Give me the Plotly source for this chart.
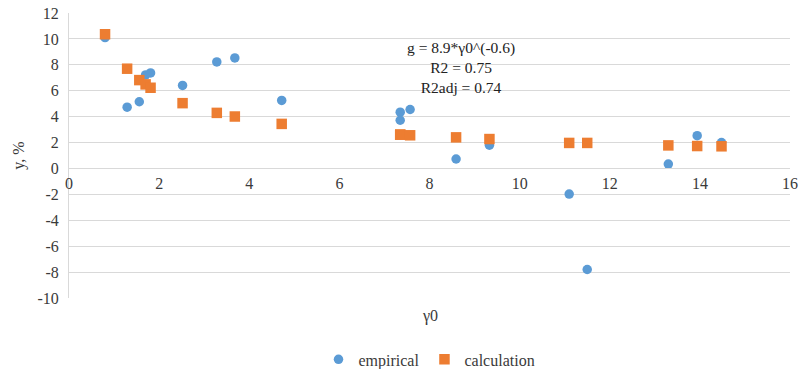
import plotly.graph_objects as go

gamma0 = [0.8, 1.29, 1.56, 1.70, 1.81, 2.52, 3.28, 3.68, 4.72, 7.35, 7.35, 7.57,
          8.59, 9.33, 11.1, 11.5, 13.3, 13.94, 14.48]
y_empirical = [10.1, 4.73, 5.15, 7.22, 7.37, 6.41, 8.22, 8.53, 5.25, 4.34, 3.72, 4.55,
               0.73, 1.8, -1.98, -7.8, 0.34, 2.53, 2.0]
y_calculation = [10.36, 7.7, 6.82, 6.49, 6.23, 5.04, 4.29, 4.01, 3.44, 2.61, 2.61, 2.56,
                 2.40, 2.27, 1.97, 1.97, 1.78, 1.73, 1.71]
x_ticks = [0, 2, 4, 6, 8, 10, 12, 14, 16]
y_ticks = [-10, -8, -6, -4, -2, 0, 2, 4, 6, 8, 10, 12]
y_tick_labels = ["-10", "-8", "-6", "-4", "-2", "0", "2", "4", "6", "8", "10", "12"]
fit_text = "g = 8.9*γ0^(-0.6)<br>R2 = 0.75<br>R2adj = 0.74"

FONT = "Liberation Serif"
TXT = "#3A3A3A"
GRID = "#D9D9D9"

fig = go.Figure()
fig.add_trace(go.Scatter(x=gamma0, y=y_empirical, mode="markers", name="empirical",
                         marker=dict(symbol="circle", size=9.5, color="#5B9BD5")))
fig.add_trace(go.Scatter(x=gamma0, y=y_calculation, mode="markers", name="calculation",
                         marker=dict(symbol="square", size=10.5, color="#ED7D31")))

fig.update_layout(
    width=800, height=369,
    margin=dict(l=69, r=10, t=13, b=71),
    paper_bgcolor="white", plot_bgcolor="white",
    font=dict(family=FONT, size=16, color=TXT),
    showlegend=True,
    legend=dict(orientation="h", x=0.5, xanchor="center", y=0.026, yanchor="middle",
                yref="container",
                font=dict(family=FONT, size=16, color=TXT), itemwidth=30),
    xaxis=dict(range=[0, 16], tickvals=x_ticks, showgrid=False, zeroline=False,
               anchor="free", position=10 / 22, showline=True, linecolor=GRID,
               linewidth=1, ticks="", automargin=False,
               tickfont=dict(family=FONT, size=16, color=TXT)),
    yaxis=dict(range=[-10, 12], tickvals=y_ticks, ticktext=y_tick_labels,
               showgrid=True, gridcolor=GRID,
               gridwidth=1, zeroline=False, showline=True, linecolor=GRID, ticks="",
               ticklabelstandoff=6, automargin=False,
               tickfont=dict(family=FONT, size=16, color=TXT),
               title=dict(text="y, %", font=dict(family=FONT, size=16, color=TXT),
                          standoff=8)),
    annotations=[
        dict(text=fit_text, x=8.69, y=7.78, xref="x", yref="y", showarrow=False,
             align="center", font=dict(family=FONT, size=15.5, color="#222222")),
        dict(text="γ0", x=0.5, y=-0.062, xref="paper", yref="paper", showarrow=False,
             yanchor="middle", font=dict(family=FONT, size=16, color=TXT)),
    ],
)

fig.write_html("out.html")
